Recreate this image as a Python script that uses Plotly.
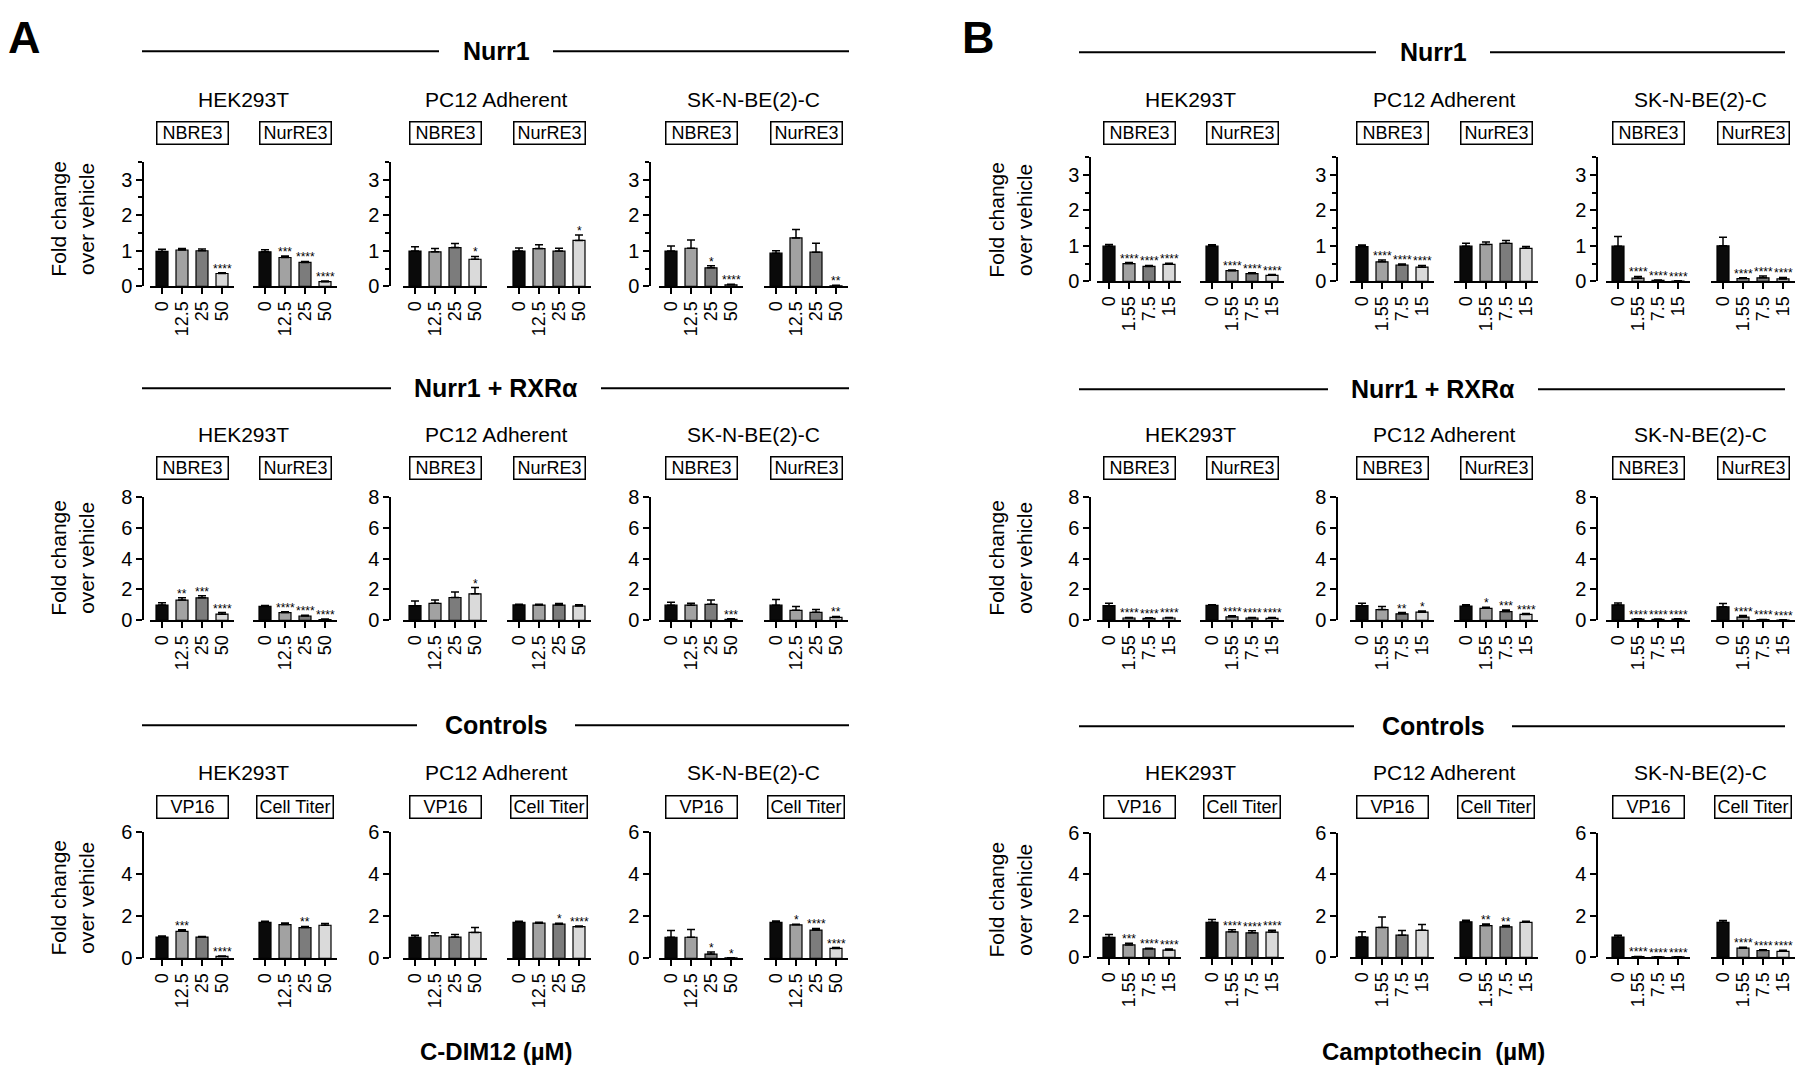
import plotly.graph_objects as go

W, H = 1800, 1080
FONT = "Liberation Sans, Arial, Helvetica, sans-serif"

# ---------------- data ----------------
cdim_doses = ["0", "12.5", "25", "50"]
cpt_doses = ["0", "1.55", "7.5", "15"]
cell_lines = ["HEK293T", "PC12 Adherent", "SK-N-BE(2)-C"]
reporters_main = ["NBRE3", "NurRE3"]
reporters_ctrl = ["VP16", "Cell Titer"]
row_titles = ["Nurr1", "Nurr1 + RXRα", "Controls"]
x_titles = ["C-DIM12 (µM)", "Camptothecin  (µM)"]
panel_letters = ["A", "B"]
bar_colors = ["#0a0a0a", "#a2a2a2", "#7c7c7c", "#dadada"]
y_label = "Fold change<br>over vehicle"

# order in each list: HEK NBRE3, HEK NurRE3, PC12 NBRE3, PC12 NurRE3, SK NBRE3, SK NurRE3
A_nurr1_mean = [[0.98, 1.02, 1.00, 0.36], [0.97, 0.81, 0.67, 0.13], [0.99, 0.97, 1.09, 0.76],
                [0.99, 1.06, 0.99, 1.29], [0.99, 1.07, 0.52, 0.04], [0.93, 1.36, 0.96, 0.01]]
A_nurr1_err = [[0.06, 0.04, 0.05, 0.02], [0.06, 0.04, 0.03, 0.02], [0.12, 0.09, 0.11, 0.08],
               [0.09, 0.11, 0.08, 0.15], [0.14, 0.23, 0.06, 0.02], [0.07, 0.24, 0.25, 0.02]]
A_nurr1_sig = [["", "", "", "****"], ["", "***", "****", "****"], ["", "", "", "*"],
               ["", "", "", "*"], ["", "", "*", "****"], ["", "", "", "**"]]

A_rxr_mean = [[0.99, 1.31, 1.46, 0.40], [0.90, 0.50, 0.28, 0.05], [0.95, 1.10, 1.48, 1.72],
              [1.00, 0.99, 0.99, 0.93], [0.98, 0.98, 1.04, 0.06], [0.98, 0.65, 0.52, 0.19]]
A_rxr_err = [[0.15, 0.15, 0.13, 0.10], [0.06, 0.05, 0.05, 0.03], [0.30, 0.22, 0.36, 0.40],
             [0.05, 0.05, 0.10, 0.08], [0.19, 0.12, 0.27, 0.04], [0.37, 0.25, 0.19, 0.06]]
A_rxr_sig = [["", "**", "***", "****"], ["", "****", "****", "****"], ["", "", "", "*"],
             ["", "", "", ""], ["", "", "", "***"], ["", "", "", "**"]]

# order: HEK VP16, HEK Cell Titer, PC12 VP16, PC12 Cell Titer, SK VP16, SK Cell Titer
A_ctrl_mean = [[1.01, 1.28, 1.01, 0.09], [1.71, 1.60, 1.46, 1.57], [1.00, 1.07, 1.01, 1.23],
               [1.71, 1.67, 1.62, 1.50], [1.00, 1.00, 0.20, 0.02], [1.71, 1.59, 1.34, 0.47]]
A_ctrl_err = [[0.05, 0.08, 0.03, 0.02], [0.05, 0.08, 0.05, 0.08], [0.10, 0.14, 0.12, 0.23],
              [0.05, 0.04, 0.05, 0.03], [0.32, 0.37, 0.10, 0.01], [0.06, 0.03, 0.08, 0.04]]
A_ctrl_sig = [["", "***", "", "****"], ["", "", "**", ""], ["", "", "", ""],
              ["", "", "*", "****"], ["", "", "*", "*"], ["", "*", "****", "****"]]

B_nurr1_mean = [[0.99, 0.50, 0.42, 0.48], [0.99, 0.30, 0.22, 0.17], [0.98, 0.55, 0.46, 0.40],
                [0.99, 1.04, 1.07, 0.93], [0.99, 0.09, 0.03, 0.01], [1.00, 0.08, 0.10, 0.07]]
B_nurr1_err = [[0.05, 0.03, 0.03, 0.03], [0.04, 0.02, 0.02, 0.02], [0.04, 0.05, 0.03, 0.05],
               [0.08, 0.07, 0.08, 0.05], [0.27, 0.05, 0.01, 0.01], [0.24, 0.02, 0.05, 0.04]]
B_nurr1_sig = [["", "****", "****", "****"], ["", "****", "****", "****"], ["", "****", "****", "****"],
               ["", "", "", ""], ["", "****", "****", "****"], ["", "****", "****", "****"]]

B_rxr_mean = [[0.95, 0.15, 0.13, 0.15], [0.97, 0.23, 0.15, 0.13], [0.95, 0.70, 0.42, 0.53],
              [0.93, 0.78, 0.57, 0.38], [1.00, 0.08, 0.06, 0.08], [0.88, 0.21, 0.04, 0.02]]
B_rxr_err = [[0.15, 0.04, 0.03, 0.04], [0.04, 0.06, 0.04, 0.06], [0.15, 0.19, 0.08, 0.08],
             [0.08, 0.06, 0.10, 0.06], [0.12, 0.03, 0.02, 0.02], [0.21, 0.10, 0.02, 0.02]]
B_rxr_sig = [["", "****", "****", "****"], ["", "****", "****", "****"], ["", "", "**", "*"],
             ["", "*", "***", "****"], ["", "****", "****", "****"], ["", "****", "****", "****"]]

B_ctrl_mean = [[0.96, 0.60, 0.41, 0.35], [1.69, 1.23, 1.18, 1.22], [0.98, 1.44, 1.07, 1.30],
               [1.71, 1.53, 1.47, 1.69], [0.98, 0.03, 0.02, 0.02], [1.69, 0.44, 0.33, 0.29]]
B_ctrl_err = [[0.14, 0.08, 0.03, 0.05], [0.13, 0.10, 0.10, 0.08], [0.25, 0.50, 0.22, 0.28],
              [0.08, 0.08, 0.06, 0.05], [0.09, 0.01, 0.01, 0.01], [0.09, 0.05, 0.03, 0.05]]
B_ctrl_sig = [["", "***", "****", "****"], ["", "****", "****", "****"], ["", "", "", ""],
              ["", "**", "**", ""], ["", "****", "****", "****"], ["", "****", "****", "****"]]

y_max = [3.5, 8, 6]
y_dtick = [1, 2, 2]
y_minor = [0.5, None, None]

# ---------------- geometry (pixels) ----------------
YAXIS_X = [143, 390, 650]
SUB_X = [[150, 253], [403, 507], [659, 764]]
SUB_W = 84
PANEL_DX = [0, 947]
ROW_Y = [[(281, 154), (622, 496), (967, 838)],
         [(276, 149), (622, 496), (966, 839)]]
CELL_TITLE_Y = [90, 432, 777]
BOX_Y = [125, 466.5, 812.5]
HEADER_Y = [[41, 385, 729], [42, 386, 730]]
HEADER_HALF = [33, 81, 55]
HEADER_LINE = [(142, 849), (1079, 1785)]
HEADER_CX = [496, 1433]
YTITLE_X = [72, 1010]
YTITLE_Y = [[212, 558, 905], [213, 558, 907]]
XTITLE_Y = 1062
LETTER_POS = [(24, 27), (978, 27)]


def px(x):
    return x / W


def py(y):
    return 1 - y / H


panels = [
    dict(doses=cdim_doses, rows=[(A_nurr1_mean, A_nurr1_err, A_nurr1_sig),
                                 (A_rxr_mean, A_rxr_err, A_rxr_sig),
                                 (A_ctrl_mean, A_ctrl_err, A_ctrl_sig)]),
    dict(doses=cpt_doses, rows=[(B_nurr1_mean, B_nurr1_err, B_nurr1_sig),
                                (B_rxr_mean, B_rxr_err, B_rxr_sig),
                                (B_ctrl_mean, B_ctrl_err, B_ctrl_sig)]),
]

fig = go.Figure()
axes = {}
annotations = []
shapes = []
n = 0
for p, panel in enumerate(panels):
    dx = PANEL_DX[p]
    doses = panel["doses"]
    for r in range(3):
        means, errs, sigs = panel["rows"][r]
        y0px, ytop = ROW_Y[p][r]
        reps = reporters_ctrl if r == 2 else reporters_main
        for c in range(3):
            for s in range(2):
                n += 1
                k = c * 2 + s
                xs = SUB_X[c][s] + dx
                xn, yn = f"x{n}", f"y{n}"
                fig.add_trace(go.Bar(
                    x=doses, y=means[k], width=0.6,
                    marker=dict(color=bar_colors, line=dict(color="black", width=1.2)),
                    error_y=dict(type="data", array=errs[k], arrayminus=[0] * 4, symmetric=False,
                                 color="black", thickness=1.5, width=4),
                    xaxis=xn, yaxis=yn, showlegend=False, hoverinfo="skip"))
                axes[f"xaxis{n}"] = dict(
                    domain=[px(xs), px(xs + SUB_W)], anchor=yn, type="category",
                    categoryorder="array", categoryarray=doses, range=[-0.6, 3.6],
                    tickmode="linear", tick0=0, dtick=1,
                    showline=True, linecolor="black", linewidth=1.5, ticks="outside",
                    ticklen=6, tickwidth=1.5, tickcolor="black", tickangle=-90,
                    tickfont=dict(family=FONT, size=18, color="black"),
                    showgrid=False, zeroline=False, fixedrange=True)
                yax = dict(
                    domain=[py(y0px), py(ytop)], anchor="free",
                    position=px(YAXIS_X[c] + dx), range=[0, y_max[r]],
                    showline=True, linecolor="black", linewidth=1.5, ticks="outside",
                    ticklen=6, tickwidth=1.5, tickcolor="black", dtick=y_dtick[r], tick0=0,
                    tickfont=dict(family=FONT, size=20, color="black"),
                    showgrid=False, zeroline=False, fixedrange=True, visible=(s == 0))
                if y_minor[r] is not None:
                    yax["minor"] = dict(dtick=y_minor[r], ticks="outside", ticklen=4,
                                        tickwidth=1.5, tickcolor="black", showgrid=False)
                axes[f"yaxis{n}"] = yax
                # significance stars (x given as category index)
                for i in range(4):
                    if sigs[k][i]:
                        annotations.append(dict(
                            x=i, y=means[k][i] + errs[k][i], xref=xn, yref=yn,
                            text=sigs[k][i], showarrow=False, yanchor="bottom", yshift=-5,
                            font=dict(family=FONT, size=12, color="black")))
                # reporter box
                bw = 78 if reps[s] == "Cell Titer" else 73
                annotations.append(dict(
                    x=px(xs + SUB_W / 2), y=py(BOX_Y[r]), xref="paper", yref="paper",
                    text=reps[s], showarrow=False, xanchor="center", yanchor="middle",
                    width=bw - 3, height=21, bordercolor="black", borderwidth=1.5, borderpad=0,
                    font=dict(family=FONT, size=18, color="black")))
            # cell line title
            cx = (SUB_X[c][0] + SUB_X[c][1] + SUB_W) / 2 + dx
            annotations.append(dict(
                x=px(cx), y=py(CELL_TITLE_Y[r]), xref="paper", yref="paper",
                text=cell_lines[c], showarrow=False, xanchor="center", yanchor="middle",
                font=dict(family=FONT, size=21, color="black")))
        # header with lines
        hx = HEADER_CX[p]
        hy = HEADER_Y[p][r]
        annotations.append(dict(
            x=px(hx), y=py(hy), xref="paper", yref="paper", text=f"<b>{row_titles[r]}</b>",
            showarrow=False, xanchor="center", yanchor="middle",
            font=dict(family=FONT, size=25, color="black")))
        l0, l1 = HEADER_LINE[p]
        shapes.append(dict(type="line", xref="paper", yref="paper", x0=px(l0), x1=px(hx - HEADER_HALF[r] - 24),
                           y0=py(hy), y1=py(hy), line=dict(color="black", width=2)))
        shapes.append(dict(type="line", xref="paper", yref="paper", x0=px(hx + HEADER_HALF[r] + 24), x1=px(l1),
                           y0=py(hy), y1=py(hy), line=dict(color="black", width=2)))
        # y axis title
        annotations.append(dict(
            x=px(YTITLE_X[p]), y=py(YTITLE_Y[p][r]), xref="paper", yref="paper", text=y_label,
            showarrow=False, textangle=-90, xanchor="center", yanchor="middle",
            font=dict(family=FONT, size=21, color="black")))
    # bottom x title
    annotations.append(dict(
        x=px(HEADER_CX[p]), y=py(XTITLE_Y), xref="paper", yref="paper", text=f"<b>{x_titles[p]}</b>",
        showarrow=False, xanchor="center", yanchor="middle",
        font=dict(family=FONT, size=24, color="black")))
    # panel letter
    lx, ly = LETTER_POS[p]
    annotations.append(dict(
        x=px(lx), y=py(ly), xref="paper", yref="paper", text=f"<b>{panel_letters[p]}</b>",
        showarrow=False, xanchor="center", yanchor="middle",
        font=dict(family=FONT, size=45, color="black")))

fig.update_layout(
    width=W, height=H, margin=dict(l=0, r=0, t=0, b=0),
    paper_bgcolor="white", plot_bgcolor="white",
    font=dict(family=FONT, color="black"),
    annotations=annotations, shapes=shapes, bargap=0.4, **axes)

fig.write_html("out.html", include_plotlyjs=True, config={"displayModeBar": False},
               post_script="document.body.style.margin='0';document.body.style.overflow='hidden';")
